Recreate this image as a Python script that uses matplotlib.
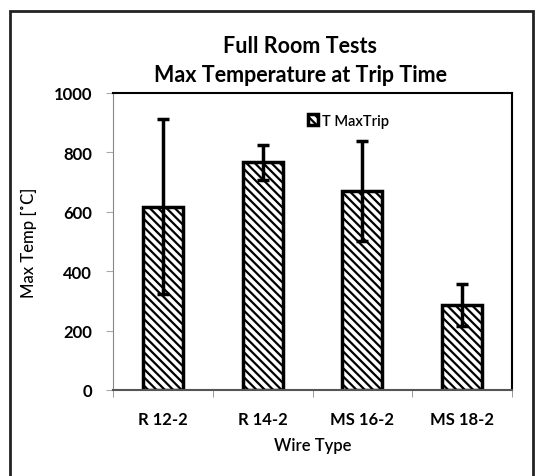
import matplotlib.pyplot as plt
from matplotlib.patches import Rectangle

plt.rcParams['font.family'] = ['Lato', 'DejaVu Sans']
plt.rcParams['hatch.linewidth'] = 1.6

wire_types = ["R 12-2", "R 14-2", "MS 16-2", "MS 18-2"]
max_temp = [617, 766, 670, 286]
temp_err = [295, 60, 168, 71]

fig = plt.figure(figsize=(5.35, 4.77), dpi=100)

# outer chart border
fig.patches.append(Rectangle((10/535, -0.05), 523/535, 1.05 - 12/477,
                             transform=fig.transFigure, fill=False,
                             edgecolor="#222222", linewidth=2))

ax = fig.add_axes([113/535, 86/477, 399/535, 297/477])

x = range(len(wire_types))
ax.bar(x, max_temp, width=0.4, color="white", edgecolor="black",
       linewidth=2.5, hatch="\\\\\\\\", label="T MaxTrip", zorder=2)
ax.errorbar(x, max_temp, yerr=temp_err, fmt="none", ecolor="black",
            elinewidth=2.5, capsize=4, capthick=2.5, zorder=3)

ax.set_xlim(-0.5, 3.5)
ax.set_ylim(0, 1000)
ax.set_yticks([0, 200, 400, 600, 800, 1000])
ax.set_xticks([0, 1, 2, 3])
ax.set_xticklabels(wire_types, fontsize=12, fontweight="bold")
ax.set_xticks([-0.5, 0.5, 1.5, 2.5, 3.5], minor=True)
ax.tick_params(axis="x", which="major", length=0, pad=15)
ax.tick_params(axis="x", which="minor", length=5, color="#888888", direction="out")
ax.tick_params(axis="y", length=5, color="#aaaaaa", labelsize=12, pad=10)
for lab in ax.get_yticklabels():
    lab.set_fontweight("bold")

ax.spines["left"].set_color("#888888")
ax.spines["bottom"].set_color("#555555")
ax.spines["bottom"].set_linewidth(1.5)
ax.spines["top"].set_linewidth(1.5)
ax.spines["right"].set_linewidth(1.5)

ax.set_xlabel("Wire Type", fontsize=12, fontweight="semibold", labelpad=7)
ax.set_ylabel("Max Temp [˚C]", fontsize=12, fontweight="medium", labelpad=12)

fig.text(0.561, 0.872, "Full Room Tests\nMax Temperature at Trip Time",
         ha="center", va="center", fontsize=15.5, fontweight="bold",
         linespacing=1.5)

ax.legend(loc="upper left", bbox_to_anchor=(0.47, 0.955), frameon=False,
          prop={"size": 10.5, "weight": "semibold"}, handlelength=0.7,
          handleheight=0.7, handletextpad=0.3, borderpad=0)

fig.savefig("out.png", dpi=100)
